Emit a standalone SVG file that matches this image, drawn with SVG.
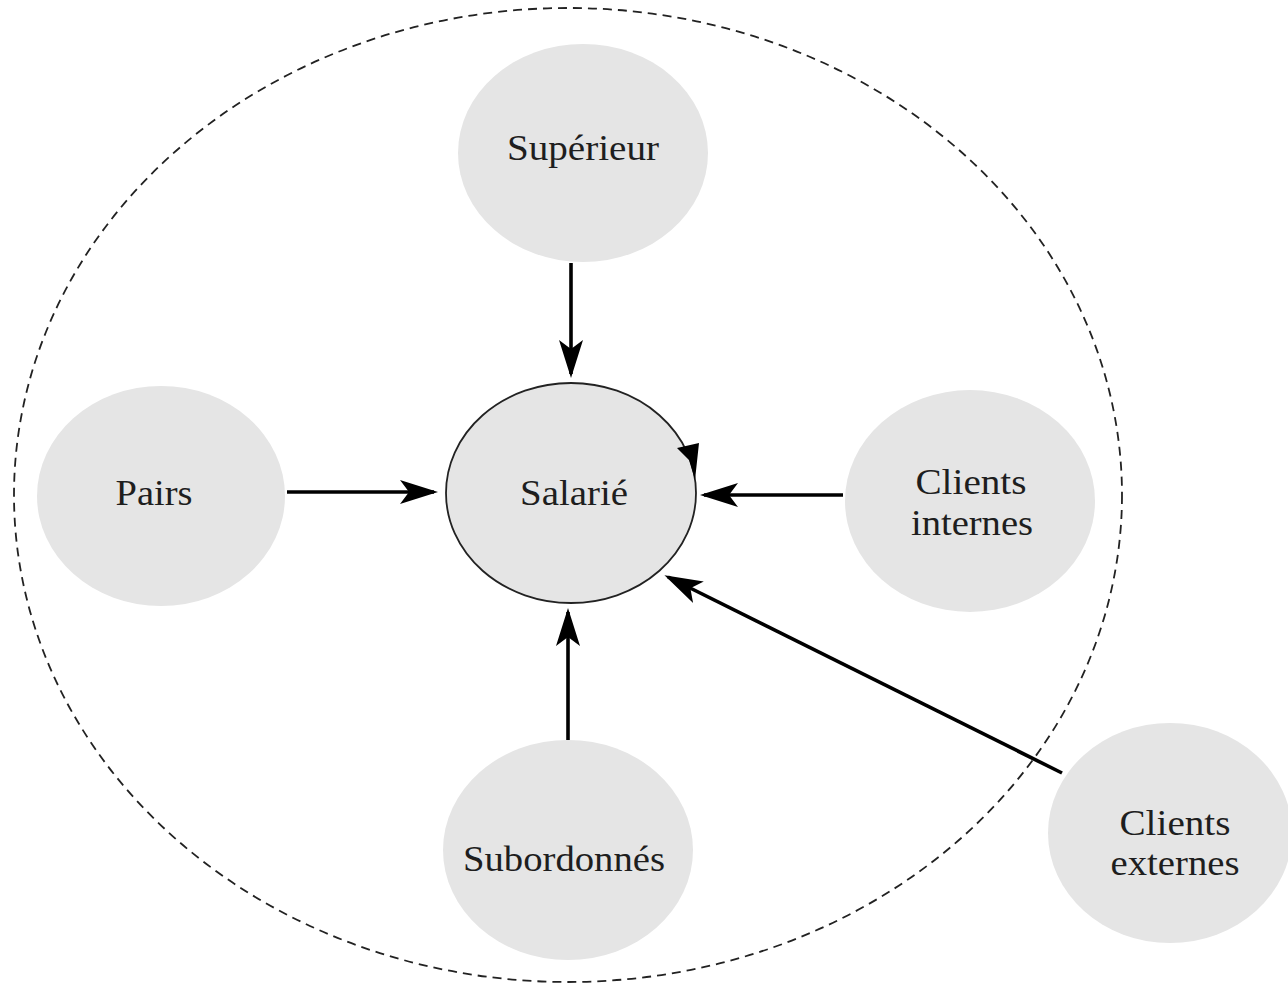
<svg xmlns="http://www.w3.org/2000/svg" width="1288" height="986" viewBox="0 0 1288 986">
<defs>
<marker id="ah" viewBox="0 0 38 24" refX="34" refY="12" markerWidth="38" markerHeight="24" markerUnits="userSpaceOnUse" orient="auto">
<path d="M0,0 L38,12 L0,24 L9,12 Z" fill="#000"/>
</marker>
</defs>
<style>
.node{fill:#e5e5e5}
.lbl{font-family:"Liberation Serif","Times New Roman",serif;font-size:35px;fill:#1e1e1e;text-anchor:middle}
.conn{stroke:#000;stroke-width:3.6;fill:none;marker-end:url(#ah)}
</style>
<rect width="1288" height="986" fill="#fff"/>
<ellipse cx="568" cy="495" rx="554" ry="487" fill="none" stroke="#222" stroke-width="1.8" stroke-dasharray="9,6"/>
<g id="superieur"><ellipse class="node" cx="583" cy="153" rx="125" ry="109"/><text class="lbl" x="583" y="160" textLength="152" lengthAdjust="spacingAndGlyphs">Supérieur</text></g>
<g id="pairs"><ellipse class="node" cx="161" cy="496" rx="124" ry="110"/><text class="lbl" x="154" y="505" textLength="77" lengthAdjust="spacingAndGlyphs">Pairs</text></g>
<g id="salarie"><ellipse class="node" cx="571" cy="493" rx="125" ry="110" stroke="#222" stroke-width="1.8"/><text class="lbl" x="574" y="505" textLength="108" lengthAdjust="spacingAndGlyphs">Salarié</text><path d="M677,448 L699,443 L695,480 L689,460 Z" fill="#000"/></g>
<g id="clients-internes"><ellipse class="node" cx="970" cy="501" rx="125" ry="111"/><text class="lbl" x="971" y="494" textLength="111" lengthAdjust="spacingAndGlyphs">Clients</text><text class="lbl" x="972" y="535" textLength="122" lengthAdjust="spacingAndGlyphs">internes</text></g>
<g id="subordonnes"><ellipse class="node" cx="568" cy="850" rx="125" ry="110"/><text class="lbl" x="564" y="871" textLength="202" lengthAdjust="spacingAndGlyphs">Subordonnés</text></g>
<g id="clients-externes"><ellipse class="node" cx="1170" cy="833" rx="122" ry="110"/><text class="lbl" x="1175" y="835" textLength="111" lengthAdjust="spacingAndGlyphs">Clients</text><text class="lbl" x="1175" y="875" textLength="129" lengthAdjust="spacingAndGlyphs">externes</text></g>
<g id="connectors">
<line class="conn" x1="571" y1="263" x2="571" y2="374"/>
<line class="conn" x1="287" y1="492" x2="434" y2="492"/>
<line class="conn" x1="843" y1="495" x2="704" y2="495"/>
<line class="conn" x1="568" y1="740" x2="568" y2="612"/>
<line class="conn" x1="1062" y1="773" x2="668" y2="577"/>
</g>
</svg>
